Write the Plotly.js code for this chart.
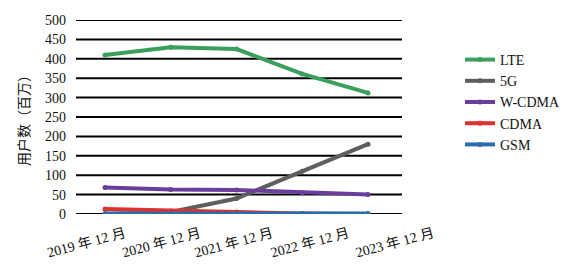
<!DOCTYPE html>
<html><head><meta charset="utf-8">
<script src="https://cdn.plot.ly/plotly-3.0.1.min.js"></script>
<style>body{margin:0;background:#fff}#c{width:566px;height:268px}</style>
</head><body><div id="c"></div>
<script>
const categories = ["2019 年 12 月","2020 年 12 月","2021 年 12 月","2022 年 12 月","2023 年 12 月"];
const seriesNames = ["LTE","5G","W-CDMA","CDMA","GSM"];
const lte   = [410, 430, 425, 361, 312];
const g5    = [0, 5, 40, 110, 180];
const wcdma = [68, 63, 62, 55, 50];
const cdma  = [13, 8, 5, 1, 0];
const gsm   = [1, 1, 1, 1, 1];
const yTicks = [0,50,100,150,200,250,300,350,400,450,500];
const labelPos = [0.30, 1.44, 2.54, 3.70, 4.99];
const colors = ["#3a9e5c","#5e5e5e","#6a3e9c","#e0302c","#2a6db0"];

const xIdx = categories.map((c,i)=>i);
const allSeries = [lte, g5, wcdma, cdma, gsm];
const traces = allSeries.map((s,k)=>({
  x: xIdx, y: s, name: seriesNames[k], type:'scatter', mode:'lines+markers',
  line:{color:colors[k], width:4}, marker:{color:colors[k], size:5}
}));

const font = {family:'"Liberation Serif","Noto Sans CJK SC",serif', size:14, color:'#111'};
const gridShapes = yTicks.map(v=>({type:'line', xref:'paper', yref:'y', x0:0, x1:0.8956, y0:v, y1:v,
  line:{color:'#000', width:2}, layer:'below'}));

Plotly.newPlot('c', traces, {
  width:566, height:268,
  margin:{l:76, r:126, t:20, b:54, autoexpand:false},
  paper_bgcolor:'#fff', plot_bgcolor:'#fff',
  font: font,
  showlegend:true,
  legend:{xref:'container', yref:'container', x:460/566, y:1-44/268, xanchor:'left', yanchor:'top',
    font:font, tracegroupgap:0, itemwidth:30},
  xaxis:{range:[-0.441, 5.095], tickmode:'array', tickvals:labelPos, ticktext:categories,
    tickangle:-15, showgrid:false, zeroline:false, showline:false, ticks:'', tickfont:font,
    ticklabelstandoff:8, automargin:false},
  yaxis:{range:[0,500], tickmode:'array', tickvals:yTicks, showgrid:false, zeroline:false,
    showline:false, ticks:'', tickfont:font, ticklabelstandoff:9, automargin:false,
    title:{text:'用户数（百万）', font:{family:font.family, size:14, color:'#111'}, standoff:12}},
  shapes: gridShapes
}, {displayModeBar:false, staticPlot:true});
</script></body></html>
